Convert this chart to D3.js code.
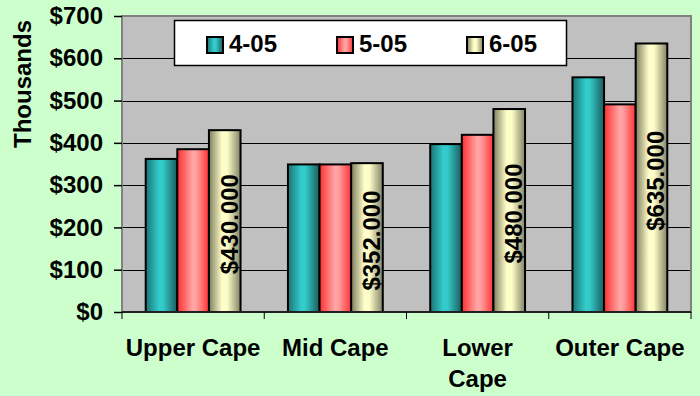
<!DOCTYPE html>
<html>
<head>
<meta charset="utf-8">
<script src="https://cdn.jsdelivr.net/npm/d3@7"></script>
<style>
  html, body { margin: 0; padding: 0; background: #ccffcc; }
  svg { display: block; }
  text { font-family: "Liberation Sans", Arial, sans-serif; font-weight: bold; fill: #000; }
</style>
</head>
<body>
<svg id="chart" width="700" height="396"></svg>
<script>
// Median home prices by region (thousands of dollars)
const categories = ["Upper Cape", "Mid Cape", "Lower Cape", "Outer Cape"];
const categoryLabels = [["Upper Cape"], ["Mid Cape"], ["Lower", "Cape"], ["Outer Cape"]];
const seriesNames = ["4-05", "5-05", "6-05"];
const values_4_05 = [362, 349, 397, 555];
const values_5_05 = [385, 349, 419, 491];
const values_6_05 = [430, 352, 480, 635];
const yTicks = [0, 100, 200, 300, 400, 500, 600, 700];
const labelledSeries = "6-05";

const seriesValues = { "4-05": values_4_05, "5-05": values_5_05, "6-05": values_6_05 };

const FONT = "24px";
const plot = { left: 122, right: 691, top: 16, bottom: 312 };

const svg = d3.select("#chart");
const defs = svg.append("defs");

// Horizontal shading for each series (cylinder-like bars)
const gradients = {
  "4-05": [[0, "#1c7373"], [0.42, "#33cccc"], [0.55, "#33c9c9"], [1, "#1a5c5c"]],
  "5-05": [[0, "#ff3030"], [0.5, "#ffa8a8"], [0.62, "#ff9a9a"], [1, "#ff3333"]],
  "6-05": [[0, "#7e7e5e"], [0.42, "#ffffcc"], [0.58, "#fdfdc8"], [1, "#828266"]]
};
seriesNames.forEach((s, i) => {
  const g = defs.append("linearGradient")
    .attr("id", "grad" + i)
    .attr("x1", "0%").attr("x2", "100%").attr("y1", "0%").attr("y2", "0%");
  gradients[s].forEach(([o, c]) => g.append("stop").attr("offset", o).attr("stop-color", c));
});

const x = d3.scaleBand().domain(categories).range([plot.left, plot.right]).paddingInner(0).paddingOuter(0);
const barW = x.bandwidth() / 4.5;
const xs = d3.scaleBand().domain(seriesNames).range([0.75 * barW, 3.75 * barW]).padding(0);
const y = d3.scaleLinear().domain([0, 700]).range([plot.bottom, plot.top]);

// Plot area background
svg.append("rect")
  .attr("x", plot.left).attr("y", plot.top)
  .attr("width", plot.right - plot.left).attr("height", plot.bottom - plot.top)
  .attr("fill", "#c0c0c0");

// Horizontal gridlines
svg.append("g").selectAll("line").data(yTicks.filter(d => d > 0)).join("line")
  .attr("x1", plot.left).attr("x2", plot.right)
  .attr("y1", d => Math.round(y(d)) + 0.5).attr("y2", d => Math.round(y(d)) + 0.5)
  .attr("stroke", "#000").attr("stroke-width", 1);

// Bars
const groups = svg.append("g").selectAll("g").data(seriesNames).join("g");
groups.selectAll("rect")
  .data(s => categories.map((c, i) => ({ s, c, v: seriesValues[s][i], k: seriesNames.indexOf(s) })))
  .join("rect")
  .attr("x", d => x(d.c) + xs(d.s))
  .attr("y", d => y(d.v))
  .attr("width", xs.bandwidth())
  .attr("height", d => y(0) - y(d.v))
  .attr("fill", d => "url(#grad" + d.k + ")")
  .attr("stroke", "#000").attr("stroke-width", 2);

// Value labels on the latest series (European thousands separator)
const loc = d3.formatLocale({ decimal: ",", thousands: ".", grouping: [3], currency: ["$", ""] });
const fmt = loc.format("$,.0f");
svg.append("g").selectAll("text")
  .data(categories.map((c, i) => ({ c, v: seriesValues[labelledSeries][i] })))
  .join("text")
  .attr("transform", d => {
    const cx = x(d.c) + xs(labelledSeries) + xs.bandwidth() / 2 + 13;
    const cy = (y(d.v) + y(0)) / 2 + 3;
    return `translate(${cx},${cy}) rotate(-90)`;
  })
  .attr("text-anchor", "middle")
  .style("font-size", FONT)
  .text(d => fmt(d.v * 1000));

// Plot border
svg.append("rect")
  .attr("x", plot.left).attr("y", plot.top)
  .attr("width", plot.right - plot.left).attr("height", plot.bottom - plot.top)
  .attr("fill", "none").attr("stroke", "#808080").attr("stroke-width", 2);

// Y axis
const yAxis = svg.append("g")
  .attr("transform", `translate(${plot.left},0)`)
  .call(d3.axisLeft(y).tickValues(yTicks).tickSize(8).tickPadding(11).tickFormat(d => "$" + d));
yAxis.select(".domain").remove();
yAxis.selectAll(".tick line").attr("stroke", "#000").attr("stroke-width", 1.5);
yAxis.selectAll(".tick text").style("font-size", FONT).attr("font-family", null);

// X axis line and category dividers
svg.append("line")
  .attr("x1", plot.left).attr("x2", plot.right)
  .attr("y1", plot.bottom).attr("y2", plot.bottom)
  .attr("stroke", "#000").attr("stroke-width", 1.5);
const bounds = categories.map(c => x(c)).concat([plot.right]);
svg.append("g").selectAll("line").data(bounds).join("line")
  .attr("x1", d => d).attr("x2", d => d)
  .attr("y1", plot.bottom).attr("y2", plot.bottom + 7)
  .attr("stroke", "#000").attr("stroke-width", 1);

// Category labels
const catText = svg.append("g").selectAll("text").data(categories).join("text")
  .attr("text-anchor", "middle")
  .style("font-size", FONT)
  .attr("x", c => x(c) + x.bandwidth() / 2)
  .attr("y", 356);
catText.each(function (c, i) {
  const t = d3.select(this);
  categoryLabels[i].forEach((line, j) => {
    t.append("tspan")
      .attr("x", x(c) + x.bandwidth() / 2)
      .attr("dy", j === 0 ? 0 : 31)
      .text(line);
  });
});

// Y axis title
svg.append("text")
  .attr("transform", "translate(31,84) rotate(-90)")
  .attr("text-anchor", "middle")
  .style("font-size", FONT)
  .text("Thousands");

// Legend
const legend = svg.append("g");
legend.append("rect")
  .attr("x", 174.5).attr("y", 20.5).attr("width", 392).attr("height", 45)
  .attr("fill", "#fff").attr("stroke", "#000").attr("stroke-width", 1.5);
const items = legend.selectAll("g.item").data(seriesNames).join("g")
  .attr("class", "item")
  .attr("transform", (d, i) => `translate(${207 + i * 130},0)`);
items.append("rect")
  .attr("x", 0).attr("y", 37).attr("width", 16).attr("height", 16)
  .attr("fill", (d, i) => "url(#grad" + i + ")")
  .attr("stroke", "#000").attr("stroke-width", 2);
items.append("text")
  .attr("x", 22).attr("y", 52)
  .style("font-size", FONT)
  .text(d => d);
</script>
</body>
</html>
